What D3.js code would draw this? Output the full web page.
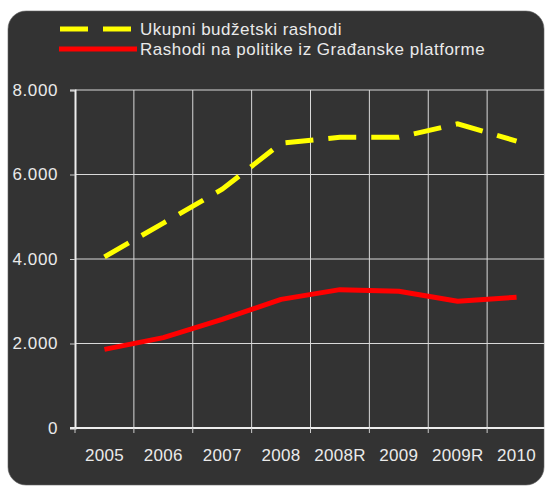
<!DOCTYPE html>
<html>
<head>
<meta charset="utf-8">
<script src="https://cdn.jsdelivr.net/npm/d3@7"></script>
<style>
  html, body { margin: 0; padding: 0; background: #fff; }
  svg { display: block; font-family: "Liberation Sans", Arial, sans-serif; }
</style>
</head>
<body>
<svg id="chart" width="545" height="486"></svg>
<script>
// ---- data ----
const years = ["2005", "2006", "2007", "2008", "2008R", "2009", "2009R", "2010"];
const ukupni = [4050, 4850, 5650, 6740, 6880, 6880, 7200, 6790];
const platforma = [1860, 2140, 2570, 3045, 3275, 3235, 3000, 3095];
const yTicks = [0, 2000, 4000, 6000, 8000];
const seriesNames = ["Ukupni budžetski rashodi", "Rashodi na politike iz Građanske platforme"];

const svg = d3.select("#chart");
const W = 545, H = 486;
const txt = "#eaeaea";

// dark rounded panel
svg.append("rect")
  .attr("x", 8).attr("y", 11)
  .attr("width", 536).attr("height", 474)
  .attr("rx", 18).attr("ry", 18)
  .attr("fill", "#333333")
  .attr("stroke", "#666").attr("stroke-width", 0.6);

const m = { left: 75, right: 546, top: 90, bottom: 428 };

const x = d3.scaleBand().domain(years).range([m.left, m.right]).paddingInner(0).paddingOuter(0);
const y = d3.scaleLinear().domain([0, 8000]).range([m.bottom, m.top]);

const loc = d3.formatLocale({ decimal: ",", thousands: ".", grouping: [3], currency: ["", ""] });
const fmt = loc.format(",");

const grid = svg.append("g");
// horizontal grid
grid.selectAll("line.h").data(yTicks.filter(d => d > 0)).join("line")
  .attr("x1", m.left).attr("x2", W)
  .attr("y1", d => y(d)).attr("y2", d => y(d))
  .attr("stroke", "#d9d9d9").attr("stroke-width", 1);
// vertical grid at band boundaries
grid.selectAll("line.v").data(years.slice(1)).join("line")
  .attr("x1", d => x(d)).attr("x2", d => x(d))
  .attr("y1", m.top).attr("y2", m.bottom)
  .attr("stroke", "#d9d9d9").attr("stroke-width", 1);

// y axis
const yAxis = svg.append("g")
  .attr("transform", `translate(${m.left},0)`)
  .call(d3.axisLeft(y).tickValues(yTicks).tickFormat(fmt).tickSize(5).tickPadding(12));
yAxis.select(".domain").attr("stroke", "#eee").attr("stroke-width", 2);
yAxis.selectAll(".tick line").attr("stroke", "#ccc");
yAxis.selectAll(".tick text").attr("fill", txt).attr("font-size", 17)
  .attr("letter-spacing", 0.6)
  .attr("font-family", "'Liberation Sans', Arial, sans-serif");

// x axis
const xAxis = svg.append("g")
  .attr("transform", `translate(0,${m.bottom})`)
  .call(d3.axisBottom(x).tickSize(0).tickPadding(21));
xAxis.select(".domain").attr("stroke", "#eee").attr("stroke-width", 2)
  .attr("d", `M${m.left - 5},0H${W}`);
xAxis.selectAll(".tick text").attr("fill", txt).attr("font-size", 17)
  .attr("letter-spacing", 0.3)
  .attr("font-family", "'Liberation Sans', Arial, sans-serif");
// x tick marks at band boundaries
svg.append("g").selectAll("line").data(years).join("line")
  .attr("x1", d => x(d)).attr("x2", d => x(d))
  .attr("y1", m.bottom).attr("y2", m.bottom + 5)
  .attr("stroke", "#ccc");

const cx = d => x(d) + x.bandwidth() / 2;
const line = d3.line().x((d, i) => cx(years[i])).y(d => y(d));

svg.append("path").datum(platforma)
  .attr("d", line).attr("fill", "none")
  .attr("stroke", "#ff0000").attr("stroke-width", 5)
  .attr("stroke-linejoin", "round");

svg.append("path").datum(ukupni)
  .attr("d", line).attr("fill", "none")
  .attr("stroke", "#ffff00").attr("stroke-width", 5)
  .attr("stroke-dasharray", "28,15");

// legend
const lg = svg.append("g");
lg.append("line").attr("x1", 60).attr("x2", 131).attr("y1", 29).attr("y2", 29)
  .attr("stroke", "#ffff00").attr("stroke-width", 5).attr("stroke-dasharray", "28,15");
lg.append("line").attr("x1", 59).attr("x2", 137).attr("y1", 49).attr("y2", 49)
  .attr("stroke", "#ff0000").attr("stroke-width", 5);
lg.selectAll("text").data(seriesNames).join("text")
  .attr("x", 140).attr("y", (d, i) => 35 + i * 20)
  .attr("fill", txt).attr("font-size", 17)
  .attr("letter-spacing", 0.5)
  .text(d => d);
</script>
</body>
</html>
